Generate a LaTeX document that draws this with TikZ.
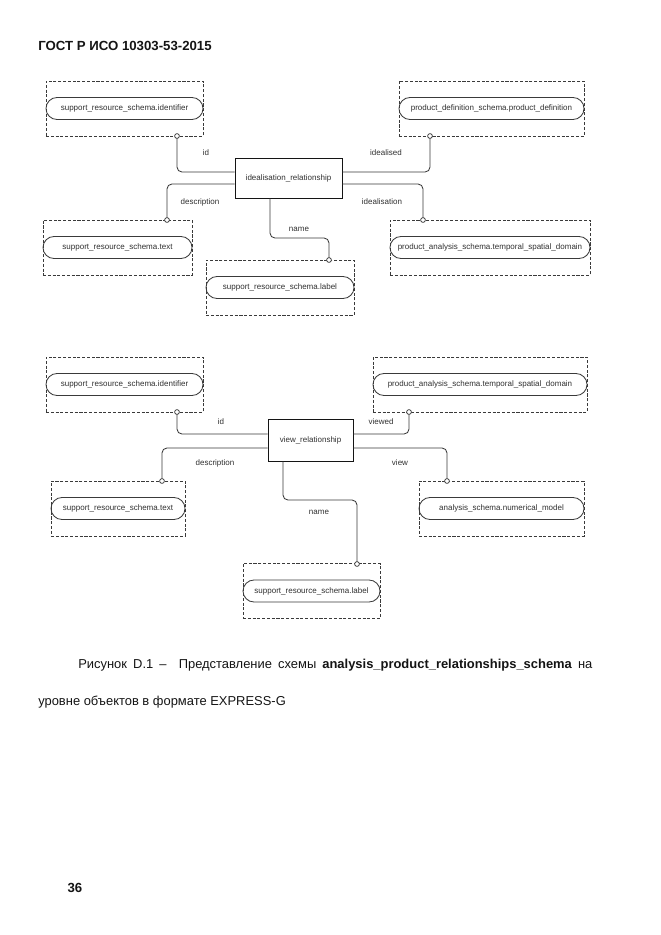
\documentclass[tikz,border=0pt]{standalone}
\usepackage{fontspec}
\setmainfont{Liberation Sans}
\usetikzlibrary{positioning,shapes.misc}
\definecolor{ink}{HTML}{141414}
\definecolor{wire}{HTML}{3A3A3A}
\definecolor{mute}{HTML}{303030}

\begin{document}
\begin{tikzpicture}[x=0.025cm,y=-0.025cm,
  attrbox/.style={draw=wire,dash pattern=on 2.2pt off 1.2pt,line width=0.5pt,minimum height=1.375cm,inner sep=0pt},
  pill/.style={rounded rectangle,draw=wire,line width=0.6pt,minimum height=0.55cm,inner sep=0pt,text=mute,font=\fontsize{5.7}{7}\selectfont},
  relbox/.style={draw=ink,line width=0.6pt,inner sep=0pt,text=mute,font=\fontsize{5.7}{7}\selectfont},
  link/.style={draw=wire,line width=0.6pt,rounded corners=3.5pt},
  ring/.style={circle,draw=wire,fill=white,line width=0.5pt,inner sep=0pt,minimum size=3.4pt},
  role/.style={inner sep=0pt,text=mute,font=\fontsize{5.7}{7}\selectfont},
  plain/.style={anchor=west,inner sep=0pt,text=ink,font=\fontsize{9.2}{11}\selectfont}]
  \useasboundingbox (0,0) rectangle (661,935);

  % attribute boxes: name/x/y/width/ring x/ring y/text
  \foreach \n/\x/\y/\w/\cx/\cy/\txt in {
    a1/124.5/108.5/3.925/177/136/{support\_resource\_schema.identifier},
    b1/491.5/108.5/4.625/430/136/{product\_definition\_schema.product\_definition},
    c1/117.5/247.5/3.725/167/220/{support\_resource\_schema.text},
    e1/490/247.5/5.0/423/220/{product\_analysis\_schema.temporal\_spatial\_domain},
    d1/280/287.5/3.7/329/260/{support\_resource\_schema.label},
    f2/124.5/384.5/3.925/177/412/{support\_resource\_schema.identifier},
    g2/480/384.5/5.35/409/412/{product\_analysis\_schema.temporal\_spatial\_domain},
    i2/118/508.5/3.35/162/481/{support\_resource\_schema.text},
    h2/501.5/508.5/4.125/447/481/{analysis\_schema.numerical\_model},
    j2/311.5/591/3.425/357/564/{support\_resource\_schema.label}}
  {
    \node[attrbox,minimum width=\w cm] (\n) at (\x,\y) {};
    \node[pill,minimum width=\w cm] (\n p) at (\n) {\txt};
    \coordinate (\n o) at (\cx,\cy);
  }

  % entities
  \node[relbox,minimum width=2.675cm,minimum height=1.0cm] (r1) at (288.5,178) {idealisation\_relationship};
  \node[relbox,minimum width=2.125cm,minimum height=1.05cm] (r2) at (310.5,440) {view\_relationship};

  % connectors
  \draw[link] ([shift={(0,-6)}]r1.west) -| (a1o);
  \draw[link] ([shift={(0,-6)}]r1.east) -| (b1o);
  \draw[link] ([shift={(0,6)}]r1.west) -| (c1o);
  \draw[link] ([shift={(0,6)}]r1.east) -| (e1o);
  \coordinate (n1) at (300,238);
  \draw[link] ([shift={(-18.5,0)}]r1.south) |- (n1) -| (d1o);

  \draw[link] ([shift={(0,-6)}]r2.west) -| (f2o);
  \draw[link] ([shift={(0,-6)}]r2.east) -| (g2o);
  \draw[link] ([shift={(0,8)}]r2.west) -| (i2o);
  \draw[link] ([shift={(0,8)}]r2.east) -| (h2o);
  \coordinate (n2) at (320,500);
  \draw[link] ([shift={(-27.5,0)}]r2.south) |- (n2) -| (j2o);

  \foreach \n in {a1,b1,c1,e1,d1,f2,g2,i2,h2,j2}
    \node[ring] (\n c) at (\n o) {};

  % role names
  \foreach \n/\x/\y/\txt in {l1/206/153/id, l2/386/153/idealised, l3/200/202/description,
    l4/382/202/idealisation, l5/299/229/name, l6/221/422/id, l7/381/422/viewed,
    l8/215/463/description, l9/400/463/view, l10/319/512/name}
    \node[role] (\n) at (\x,\y) {\txt};

  % page text
  \node[plain,font=\bfseries\fontsize{9.4}{11}\selectfont] (head) at (38,46) {ГОСТ Р ИСО 10303-53-2015};
  \node[plain] (cap1) at (78,665) {\makebox[12.85cm][s]{Рисунок D.1 –\ \ Представление схемы \textbf{analysis\_product\_relationships\_schema} на}};
  \node[plain] (cap2) at (38,702) {уровне объектов в формате EXPRESS-G};
  \node[plain,anchor=center,font=\bfseries\fontsize{9.4}{11}\selectfont] (page) at (75,888) {36};
\end{tikzpicture}
\end{document}
